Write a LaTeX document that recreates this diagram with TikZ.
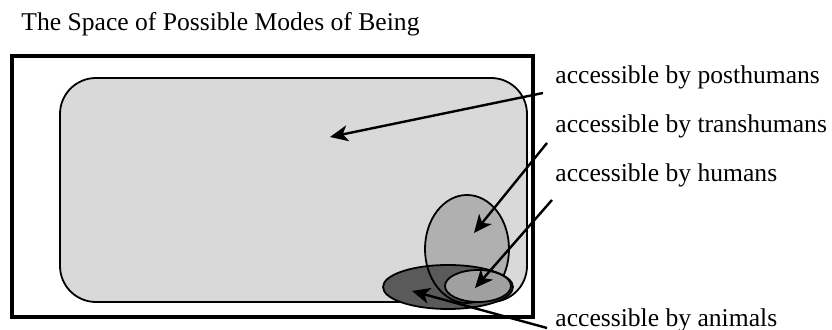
\documentclass[tikz,border=0pt]{standalone}
\usepackage{fontspec}
\setmainfont{Liberation Serif}
\usetikzlibrary{arrows.meta, calc}
\definecolor{spacegray}{HTML}{D9D9D9}
\definecolor{transgray}{HTML}{B0B0B0}
\definecolor{humangray}{HTML}{A0A0A0}
\definecolor{animalgray}{HTML}{5A5A5A}

\begin{document}
\begin{tikzpicture}[
    x=0.5pt, y=-0.5pt,
    frame/.style={draw, line width=2pt},
    region/.style={draw, line width=0.9pt},
    caption/.style={anchor=base west, inner sep=0pt, font=\fontsize{12.8}{15}\selectfont},
    pointer/.style={-{Stealth[length=9pt, width=8pt, inset=2.5pt]}, line width=1.2pt}
]
\useasboundingbox (0,0) rectangle (832,330);

\node[caption] (title) at (21,31) {The Space of Possible Modes of Being};

% outer frame and the space of modes
\draw[frame] (12,56) rectangle (533,317);
\draw[region, fill=spacegray, rounded corners=18pt] (60,78) rectangle (527,302);

% nested regions
\fill[transgray] (467,249) ellipse [x radius=21pt, y radius=27pt];
\draw[region, fill=animalgray] (448,287) ellipse [x radius=32.5pt, y radius=11pt];
\draw[region] (467,249) ellipse [x radius=21pt, y radius=27pt];
\draw[region, fill=humangray] (478,286) ellipse [x radius=16.5pt, y radius=8pt];

% labels
\node[caption] (post) at (555,84) {accessible by posthumans};
\node[caption] (trans) at (555,133) {accessible by transhumans};
\node[caption] (human) at (555,182) {accessible by humans};
\node[caption] (animal) at (555,327) {accessible by animals};

\coordinate (post start) at (543,93);
\coordinate (trans start) at (547,143);
\coordinate (human start) at (552,200);
\coordinate (animal start) at (547,328);

\coordinate (post tip) at (330,137);
\coordinate (trans tip) at (474,233);
\coordinate (human tip) at (475,288);
\coordinate (animal tip) at (412,291);

\draw[pointer] (post start) -- (post tip);
\draw[pointer] (trans start) -- (trans tip);
\draw[pointer] (human start) -- (human tip);
\draw[pointer] (animal start) -- (animal tip);

\end{tikzpicture}
\end{document}
